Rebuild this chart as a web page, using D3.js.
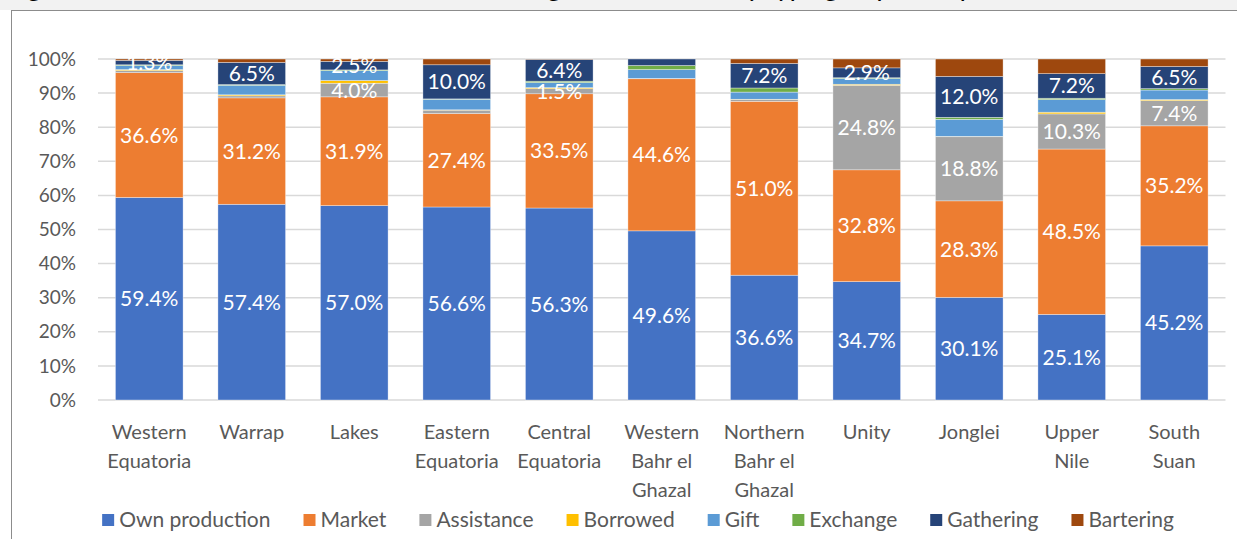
<!DOCTYPE html>
<html>
<head>
<meta charset="utf-8">
<script src="https://cdn.jsdelivr.net/npm/d3@7"></script>
<style>
  body { margin: 0; background: #fff; }
  text { font-family: Lato, "Open Sans", sans-serif; }
</style>
</head>
<body>
<div id="chart"></div>
<script>
// DATA
var categories = ["Western Equatoria", "Warrap", "Lakes", "Eastern Equatoria", "Central Equatoria",
    "Western Bahr el Ghazal", "Northern Bahr el Ghazal", "Unity", "Jonglei", "Upper Nile", "South Suan"];
var categoryLines = [["Western", "Equatoria"], ["Warrap"], ["Lakes"], ["Eastern", "Equatoria"], ["Central", "Equatoria"],
    ["Western", "Bahr el", "Ghazal"], ["Northern", "Bahr el", "Ghazal"], ["Unity"], ["Jonglei"], ["Upper", "Nile"], ["South", "Suan"]];
var seriesNames = ["Own production", "Market", "Assistance", "Borrowed", "Gift", "Exchange", "Gathering", "Bartering"];
var seriesColors = ["#4472C4", "#ED7D31", "#A5A5A5", "#FFC000", "#5B9BD5", "#70AD47", "#264478", "#9E480E"];

var ownProduction = [59.4, 57.4, 57.0, 56.6, 56.3, 49.6, 36.6, 34.7, 30.1, 25.1, 45.2];
var market        = [36.6, 31.2, 31.9, 27.4, 33.5, 44.6, 51.0, 32.8, 28.3, 48.5, 35.2];
var assistance    = [0.6, 0.6, 4.0, 1.0, 1.5, 0.1, 0.5, 24.8, 18.8, 10.3, 7.4];
var borrowed      = [0.3, 0.3, 0.8, 0.1, 0.3, 0.0, 0.1, 0.3, 0.1, 0.5, 0.3];
var gift          = [1.2, 2.8, 2.9, 3.1, 1.5, 2.6, 2.1, 1.7, 5.0, 3.7, 2.8];
var exchange      = [0.2, 0.2, 0.2, 0.1, 0.4, 1.2, 1.2, 0.2, 0.6, 0.4, 0.4];
var gathering     = [1.3, 6.5, 2.5, 10.0, 6.4, 1.9, 7.2, 2.9, 12.0, 7.2, 6.5];
var bartering     = [0.4, 1.0, 0.7, 1.7, 0.1, 0.0, 1.3, 2.6, 5.1, 4.3, 2.2];

// which small segments carry a data label (by series name -> category indexes)
var labelledSmall = {
    "Assistance": [2, 4, 7, 8, 9, 10],
    "Gathering": [0, 1, 2, 3, 4, 6, 7, 8, 9, 10]
};
var yTicks = [0, 10, 20, 30, 40, 50, 60, 70, 80, 90, 100];
var titleText = "Figure 9: Main sources of food consumed during the last week, by type group of displacement";

var seriesValues = [ownProduction, market, assistance, borrowed, gift, exchange, gathering, bartering];

// SET UP
var W = 1237, H = 539;
var plot = {left: 98, right: 1225.5, top: 59, bottom: 400};

var svg = d3.select("#chart").append("svg")
    .attr("width", W)
    .attr("height", H);

// frame: grey strip with a cut-off caption above the chart box
svg.append("rect").attr("x", 0).attr("y", 0).attr("width", W).attr("height", 10).attr("fill", "#f2f2f2");
svg.append("text")
    .attr("x", 8).attr("y", -4)
    .style("font-style", "italic")
    .style("font-size", "28px")
    .attr("fill", "#000")
    .text(titleText);
svg.append("line").attr("x1", 11).attr("x2", W).attr("y1", 10.5).attr("y2", 10.5).attr("stroke", "#8c8c8c");
svg.append("line").attr("x1", 11.5).attr("x2", 11.5).attr("y1", 10).attr("y2", H).attr("stroke", "#8c8c8c");

// scales
var x = d3.scaleBand()
    .domain(categories)
    .range([plot.left, plot.right])
    .paddingInner(0.34)
    .paddingOuter(0.17);
var y = d3.scaleLinear()
    .domain([0, 100])
    .range([plot.bottom, plot.top]);

// gridlines
svg.append("g")
    .selectAll("line")
    .data(yTicks)
    .join("line")
    .attr("x1", plot.left)
    .attr("x2", plot.right)
    .attr("y1", d => y(d))
    .attr("y2", d => y(d))
    .attr("stroke", "#d9d9d9")
    .attr("stroke-width", 1.5);

// y axis labels
svg.append("g")
    .selectAll("text")
    .data(yTicks)
    .join("text")
    .attr("x", 76)
    .attr("y", d => y(d))
    .attr("dy", "0.35em")
    .attr("text-anchor", "end")
    .attr("fill", "#595959")
    .style("font-size", "19px")
    .text(d => d + "%");

// stacked data
var rows = categories.map(function(c, i) {
    var r = {category: c, index: i};
    seriesNames.forEach(function(s, k) { r[s] = seriesValues[k][i]; });
    return r;
});
var stacked = d3.stack().keys(seriesNames)(rows);

var layers = svg.append("g")
    .selectAll("g")
    .data(stacked)
    .join("g")
    .attr("fill", (d, k) => seriesColors[k]);

layers.selectAll("rect")
    .data(d => d)
    .join("rect")
    .attr("x", d => x(d.data.category))
    .attr("width", x.bandwidth())
    .attr("y", d => y(d[1]))
    .attr("height", d => y(d[0]) - y(d[1]))
    .attr("stroke", "#ffffff")
    .attr("stroke-opacity", 0.6)
    .attr("stroke-width", 0.6);

// data labels
var labelData = [];
stacked.forEach(function(layer) {
    var name = layer.key;
    layer.forEach(function(d) {
        var i = d.data.index;
        var show = (name === "Own production" || name === "Market") ||
            (labelledSmall[name] && labelledSmall[name].indexOf(i) >= 0);
        if (show) labelData.push({cat: d.data.category, mid: (d[0] + d[1]) / 2, v: d[1] - d[0]});
    });
});
svg.append("g")
    .selectAll("text")
    .data(labelData)
    .join("text")
    .attr("x", d => x(d.cat) + x.bandwidth() / 2)
    .attr("y", d => y(d.mid))
    .attr("dy", "0.36em")
    .attr("text-anchor", "middle")
    .attr("fill", "#ffffff")
    .style("font-size", "21px")
    .text(d => d.v.toFixed(1) + "%");

// category labels
var catG = svg.append("g")
    .selectAll("text")
    .data(categories)
    .join("text")
    .attr("x", d => x(d) + x.bandwidth() / 2)
    .attr("y", 439)
    .attr("text-anchor", "middle")
    .attr("fill", "#595959")
    .style("font-size", "20px");
catG.selectAll("tspan")
    .data((d, i) => categoryLines[i])
    .join("tspan")
    .attr("x", function() { return d3.select(this.parentNode).attr("x"); })
    .attr("dy", (d, j) => j === 0 ? 0 : 29)
    .text(d => d);

// legend
var legend = svg.append("g");
var items = legend.selectAll("g")
    .data(seriesNames)
    .join("g");
items.append("rect")
    .attr("width", 12).attr("height", 12)
    .attr("y", 514)
    .attr("fill", (d, k) => seriesColors[k]);
items.append("text")
    .attr("x", 17)
    .attr("y", 527)
    .attr("fill", "#595959")
    .style("font-size", "21px")
    .text(d => d);
var gap = 33;
var offs = [], cur = 0;
items.each(function() {
    var tw = d3.select(this).select("text").node().getComputedTextLength();
    offs.push(cur);
    cur += 17 + tw + gap;
});
var totalW = cur - gap;
var startX = 638 - totalW / 2;
items.attr("transform", (d, k) => "translate(" + (startX + offs[k]) + ",0)");
</script>
</body>
</html>
